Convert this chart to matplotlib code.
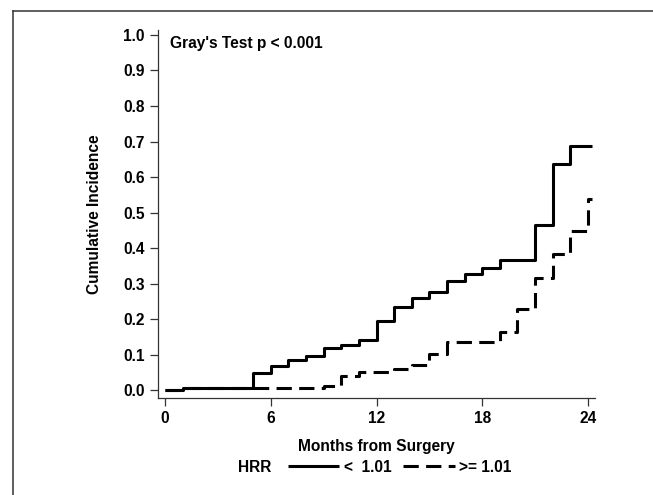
import matplotlib
matplotlib.use("Agg")
import matplotlib.pyplot as plt
from matplotlib.lines import Line2D

plt.rcParams["font.family"] = ["Liberation Sans", "DejaVu Sans"]
plt.rcParams["font.weight"] = "bold"
FS = 11.2
plt.rcParams["font.size"] = FS

# step times (months) and cumulative incidence at each step
low_t = [0, 1, 5, 6, 7, 8, 9, 10, 11, 12, 13, 14, 15, 16, 17, 18, 19, 21, 22, 23, 24.25]
low_y = [0.0, 0.005, 0.048, 0.068, 0.086, 0.095, 0.119, 0.128, 0.14, 0.194, 0.234,
         0.259, 0.276, 0.306, 0.327, 0.344, 0.367, 0.465, 0.638, 0.688, 0.688]

high_t = [0, 1, 9, 10, 11, 13, 14, 15, 16, 19, 20, 21, 22, 23, 24, 24.25]
high_y = [0.0, 0.005, 0.012, 0.039, 0.05, 0.06, 0.07, 0.102, 0.136, 0.163, 0.228,
          0.316, 0.383, 0.447, 0.537, 0.537]

x_ticks = [0, 6, 12, 18, 24]
y_ticks = [0.0, 0.1, 0.2, 0.3, 0.4, 0.5, 0.6, 0.7, 0.8, 0.9, 1.0]

W, H = 653, 495
fig = plt.figure(figsize=(W / 100, H / 100), dpi=100)
ax = fig.add_axes([158 / W, (H - 398) / H, 437 / W, 368 / H])

l1, = ax.plot(low_t, low_y, drawstyle="steps-post", color="black", lw=2.2,
              solid_capstyle="butt")
l2, = ax.plot(high_t, high_y, drawstyle="steps-post", color="black", lw=2.2,
              dash_capstyle="butt")
l2.set_dashes((5, 2.4))

ax.set_xlim(-0.4, 24.4)
ax.set_ylim(-0.022, 1.014)
ax.set_xticks(x_ticks)
ax.set_yticks(y_ticks)
ax.set_yticklabels([f"{v:.1f}" for v in y_ticks])
for s in ("top", "right"):
    ax.spines[s].set_visible(False)
for s in ("left", "bottom"):
    ax.spines[s].set_linewidth(0.9)
    ax.spines[s].set_color("#333333")
ax.tick_params(direction="out", length=5.5, width=0.9, color="#333333", pad=4,
               labelsize=FS)

ax.set_xlabel("Months from Surgery", fontsize=FS, fontweight="bold", labelpad=9)
ax.set_ylabel("Cumulative Incidence", fontsize=FS, fontweight="bold", labelpad=15)

ax.text(0.3, 0.975, "Gray's Test p < 0.001", fontsize=FS, fontweight="bold",
        va="center", ha="left")

# legend row at the bottom
fig.text(255 / W, 1 - 467 / H, "HRR", ha="center", va="center",
         fontsize=FS, fontweight="bold")
fig.legend([l1, l2], ["<  1.01", ">= 1.01"], ncol=2, frameon=False,
           loc="center left", bbox_to_anchor=(274 / W, 1 - 467 / H),
           handlelength=3.3, handletextpad=0.3, columnspacing=0.75,
           prop={"weight": "bold", "size": FS})

# outer frame (only top and left edges visible)
fig.add_artist(Line2D([13 / W, 13 / W], [0, 1 - 11 / H], transform=fig.transFigure,
                      color="#333333", lw=1.1))
fig.add_artist(Line2D([13 / W, 1], [1 - 11 / H, 1 - 11 / H], transform=fig.transFigure,
                      color="#333333", lw=1.1))

fig.savefig("out.png", dpi=100)
